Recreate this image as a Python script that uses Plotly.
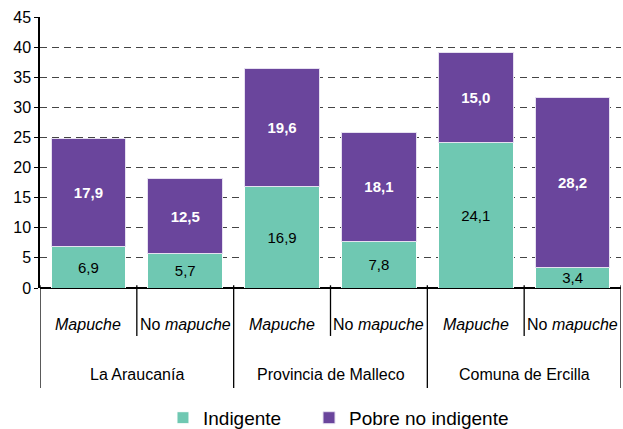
import plotly.graph_objects as go

groups = ["La Araucanía", "Provincia de Malleco", "Comuna de Ercilla"]
subcats = ["<i>Mapuche</i>", "No <i>mapuche</i>"] * 3
indigente = [6.9, 5.7, 16.9, 7.8, 24.1, 3.4]
pobre = [17.9, 12.5, 19.6, 18.1, 15.0, 28.2]
y_ticks = [0, 5, 10, 15, 20, 25, 30, 35, 40, 45]

GREEN = "#6fc8b2"
PURPLE = "#6a459c"
FONT = "Liberation Sans, Arial, sans-serif"

xs = list(range(len(indigente)))

fig = go.Figure()
fig.add_trace(go.Bar(
    x=xs, y=indigente, name="Indigente", marker=dict(color=GREEN, line=dict(color="white", width=1)),
    width=0.77, texttemplate="%{y:.1f}", textposition="inside", insidetextanchor="middle",
    textfont=dict(color="black", size=15, family=FONT), constraintext="none", legend="legend",
    showlegend=True,
))
fig.add_trace(go.Bar(
    x=xs, y=pobre, name="Pobre no indigente", marker=dict(color=PURPLE, line=dict(color="#e6e0f0", width=1)),
    width=0.77, texttemplate="<b>%{y:.1f}</b>", textposition="inside", insidetextanchor="middle",
    textfont=dict(color="white", size=15, family=FONT), constraintext="none", legend="legend2",
    showlegend=True,
))

shapes = []
# sub-category dividers
for i in range(len(groups)):
    shapes.append(dict(type="line", xref="x", yref="paper", x0=2 * i + 0.5, x1=2 * i + 0.5,
                       y0=0.01, y1=-0.177, line=dict(color="black", width=1.3)))
# group dividers
for i in range(len(groups) + 1):
    shapes.append(dict(type="line", xref="x", yref="paper", x0=2 * i - 0.5, x1=2 * i - 0.5,
                       y0=0.01, y1=-0.369, line=dict(color="black", width=1.3)))

annotations = []
for i, s in enumerate(subcats):
    annotations.append(dict(x=i, y=-0.133, xref="x", yref="paper", text=s, showarrow=False,
                            font=dict(size=16, color="black", family=FONT), yanchor="middle"))
for i, g in enumerate(groups):
    annotations.append(dict(x=2 * i + 0.5, y=-0.321, xref="x", yref="paper", text=g, showarrow=False,
                            font=dict(size=16, color="black", family=FONT), yanchor="middle"))

legend_common = dict(orientation="h", xref="container", yref="container", xanchor="left",
                     y=0.026, yanchor="middle", font=dict(size=19, family=FONT),
                     bgcolor="rgba(0,0,0,0)")

fig.update_layout(
    width=623, height=429,
    margin=dict(l=40, r=2, t=17, b=141),
    barmode="stack",
    separators=",.",
    showlegend=True,
    plot_bgcolor="white", paper_bgcolor="white",
    font=dict(family=FONT, color="black", size=16),
    xaxis=dict(range=[-0.5, 5.5], showticklabels=False, showgrid=False, zeroline=False,
               showline=False, ticks="", automargin=False),
    yaxis=dict(range=[0, 45], tickvals=y_ticks, showgrid=True, gridcolor="#444444",
               griddash="7px,5px", gridwidth=1, zeroline=True, zerolinecolor="black", zerolinewidth=1.5,
               showline=True, linecolor="black", linewidth=1.5, ticks="outside", ticklen=4,
               tickcolor="black", tickfont=dict(size=16, family=FONT), automargin=False),
    legend=dict(x=0.2616, **legend_common),
    legend2=dict(x=0.496, **legend_common),
    shapes=shapes, annotations=annotations,
)

fig.write_html("out.html", config={"displayModeBar": False},
               post_script="document.body.style.margin='0';document.body.style.padding='0';")
